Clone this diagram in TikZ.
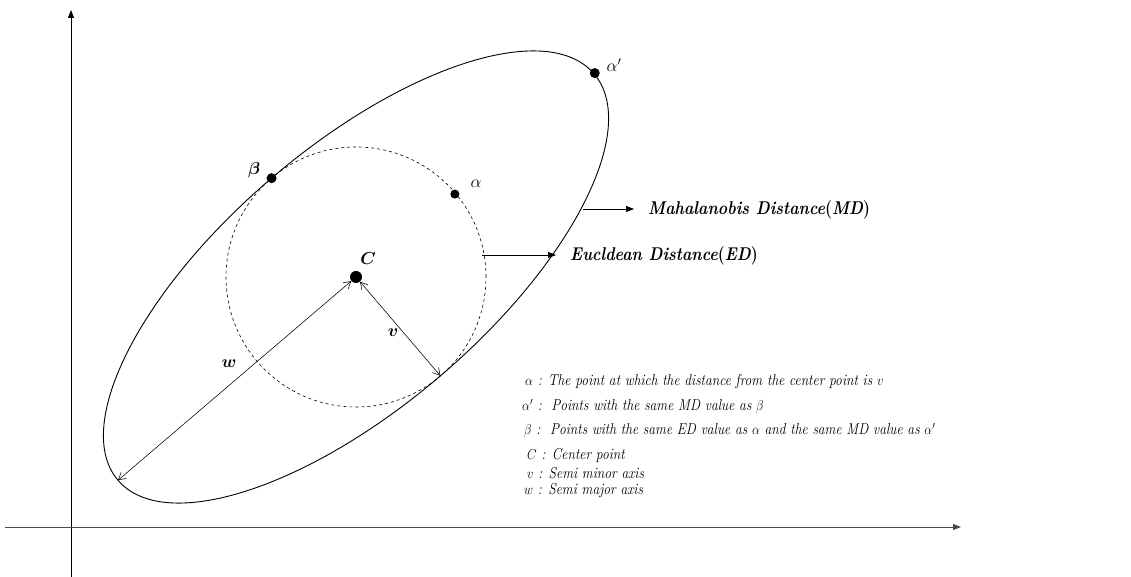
\documentclass[tikz,border=0pt]{standalone}
\usepackage{amsmath}
\usetikzlibrary{arrows.meta,calc}
\newcommand{\narrow}[1]{\scalebox{0.86}[1]{#1}}
\begin{document}
\begin{tikzpicture}[x=1pt,y=1pt,
  axis/.style={line width=0.9pt,-{Triangle[length=8pt,width=6pt]}},
  dimarrow/.style={line width=0.55pt,{Straight Barb[length=7pt,width=8pt]}-{Straight Barb[length=7pt,width=8pt]}},
  ptr/.style={line width=0.7pt,-{Triangle[length=8pt,width=6pt]}},
  dotpt/.style={circle,fill=black,inner sep=0pt,minimum size=#1},
  lbl/.style={font=\fontsize{18}{20}\selectfont\bfseries\itshape},
  plbl/.style={font=\fontsize{18.5}{20}\selectfont\bfseries\itshape,anchor=west,inner sep=0pt},
  leg/.style={anchor=west,font=\fontsize{15.8}{17}\selectfont\itshape,inner sep=0pt}]
\useasboundingbox (0,0) rectangle (1131,577);
% axes
\coordinate (ybot) at (71,0);
\coordinate (ytop) at (71,567);
\coordinate (xl) at (5,50);
\coordinate (xr) at (961,50);
\draw[axis] (ybot) -- (ytop);
\draw[axis,draw=black!70] (xl) -- (xr);
% ellipse and circle
\coordinate (c) at (356,300);
\draw[line width=0.9pt,rotate around={40.5:(c)}] (c) ellipse [x radius=313,y radius=130];
\draw[dashed,line width=0.6pt] (c) circle [radius=130];
% points
\coordinate (wend) at ($(c)+(220.5:313)$);
\coordinate (vend) at ($(c)+(-49.5:130)$);
\node[dotpt=12pt] (C) at (c) {};
\node[dotpt=10pt] (beta) at ($(c)+(130.5:130)$) {};
\node[dotpt=9pt] (alpha) at ($(c)+(40:129)$) {};
\node[dotpt=10pt] (alphap) at ($(c)+(40.5:314)$) {};
\draw[dimarrow] (C) -- (wend);
\draw[dimarrow] (C) -- (vend);
% labels
\node[lbl] (lC) at (368,318) {$\boldsymbol{C}$};
\node[lbl] (lbeta) at (254,407) {$\boldsymbol{\beta}$};
\node[font=\fontsize{18}{20}\selectfont] (lalpha) at (476,393) {$\alpha$};
\node[font=\fontsize{18}{20}\selectfont] (lalphap) at (614,512) {$\alpha'$};
\node[lbl] (lw) at (229,213) {$\boldsymbol{w}$};
\node[lbl] (lv) at (393,244) {$\boldsymbol{v}$};
% pointers
\coordinate (mdstart) at (583,368);
\coordinate (mdend) at (634,368);
\node[plbl] (md) at (648,367) {\narrow{Mahalanobis Distance\textup{(}MD\textup{)}}};
\draw[ptr] (mdstart) -- (mdend);
\coordinate (edstart) at (482,322);
\coordinate (edend) at (556,322);
\node[plbl] (ed) at (570,321) {\narrow{Eucldean Distance\textup{(}ED\textup{)}}};
\draw[ptr] (edstart) -- (edend);
% legend
\node[leg] (l1) at (525,195) {\narrow{$\alpha$ : The point at which the distance from the center point is $v$}};
\node[leg] (l2) at (522,171) {\narrow{$\alpha'$ :\ \ Points with the same MD value as $\beta$}};
\node[leg] (l3) at (524,147) {\narrow{$\beta$ :\ \ Points with the same ED value as $\alpha$ and the same MD value as $\alpha'$}};
\node[leg] (l4) at (527,122) {\narrow{$C$ : Center point}};
\node[leg] (l5) at (527,104) {\narrow{$v$ : Semi minor axis}};
\node[leg] (l6) at (524,86) {\narrow{$w$ : Semi major axis}};
\end{tikzpicture}
\end{document}
